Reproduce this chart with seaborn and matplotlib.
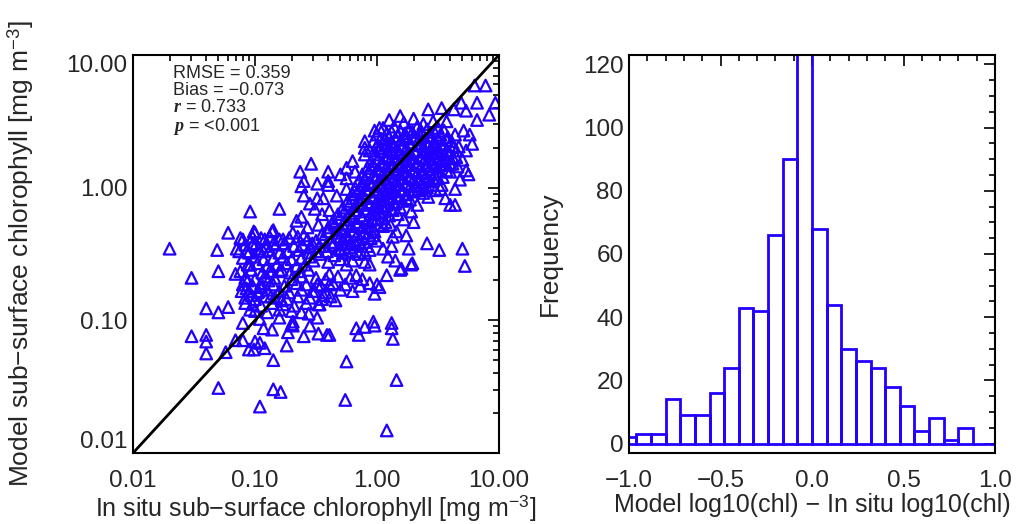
#!/usr/bin/env python3

import numpy as np
import pandas as pd
import matplotlib as mpl
from matplotlib import pyplot as plt
import seaborn as sns

sns.set_theme(style='white')
plt.rcParams['font.family'] = ['Liberation Sans', 'DejaVu Sans']
plt.rcParams['mathtext.fontset'] = 'custom'
plt.rcParams['mathtext.rm'] = 'Liberation Sans'
plt.rcParams['mathtext.it'] = 'Liberation Serif:italic:bold'
plt.rcParams['axes.edgecolor'] = 'black'
plt.rcParams['axes.linewidth'] = 1.5

BLUE = '#2200ff'

# match-ups, as (log10 in situ, log10 model)
low_left = [(-1.70,-0.46),(-1.52,-0.68),(-1.40,-0.91),(-1.30,-0.94),(-1.22,-0.90),(-1.52,-1.12),(-1.40,-1.11),
            (-1.40,-1.16),(-1.40,-1.25),(-1.24,-1.24),(-1.30,-1.51),(-1.31,-0.47),(-1.30,-0.63),(-1.22,-0.34),
            (-1.00,-0.34),(-1.04,-0.18),(-0.80,-0.16),(-0.86,-0.33),(-1.15,-0.46),(-1.10,-0.39),(-1.16,-0.65),
            (-1.10,-1.02),(-1.10,-1.15),(-1.16,-1.15),(-1.05,-1.22),(-1.00,-1.16),(-1.07,-0.48),(-1.04,-0.58),
            (-1.07,-0.76),(-1.11,-0.78),(-1.03,-0.81),(-1.08,-0.87),(-1.04,-0.92),(-1.06,-0.70),(-1.02,-0.43),
            (-1.01,-0.33)]
low_mid = [(-0.96,-1.65),(-0.85,-1.52),(-0.79,-1.54),(-0.85,-1.30),(-0.86,-1.07),(-0.74,-1.19),(-0.69,-1.04),
           (-0.60,-1.12),(-0.55,-1.04),(-0.48,-1.10),(-0.41,-1.11),(-0.39,-1.11),(-0.25,-1.31),(-0.26,-1.60),
           (-0.17,-1.06),(-0.10,-1.05),(-0.03,-1.01),(-0.15,-1.11),(-0.93,-1.06),(-0.70,-1.03),(-0.49,-0.98),
           (-0.73,-1.09),(-1.01,-1.22),(-0.92,-1.21),(-0.96,-1.17),(-0.80,-0.98),(-0.96,-0.99),(-0.69,-1.01),
           (-0.56,-0.95),(-0.47,-0.88),(-0.44,-0.81),(-0.34,-0.85),(-0.78,-0.85),(-0.87,-0.82),(-0.95,-0.75),
           (-0.97,-0.78),(-0.89,-0.70),(-0.88,-0.63),(-0.80,-0.63)]
low_right = [(0.12,-1.06),(0.13,-1.14),(0.16,-1.45),(0.08,-1.83),(-0.02,-1.04),(0.12,-1.02),(0.41,-0.42),
             (0.51,-0.47),(0.70,-0.46),(0.72,-0.59),(0.29,-0.57),(0.26,-0.46),(0.19,-0.62),(0.24,-0.36),
             (0.28,-0.58),(0.20,-0.61),(0.08,-0.66),(0.15,-0.55),(0.02,-0.75),(-0.02,-0.80),(0.09,-0.52),
             (0.12,-0.44),(0.05,-0.46),(0.13,-0.37),(0.30,-0.26),(0.16,-0.33),(0.11,-0.28),(0.22,-0.24),
             (0.28,-0.18),(0.33,-0.13),(0.34,-0.02),(0.52,-0.01),(0.64,-0.01),(0.42,-0.07),(0.56,-0.08),
             (0.60,-0.13),(0.64,-0.13),(0.00,-0.73),(-0.17,-0.66)]
upper = [(0.89,0.77),(0.80,0.77),(0.82,0.64),(0.97,0.64),(0.92,0.55),(0.73,0.58),(0.82,0.51),(0.69,0.64),
         (0.63,0.59),(0.57,0.50),(0.64,0.40),(0.71,0.43),(0.76,0.40),(0.78,0.33),(0.73,0.28),(0.19,0.54),
         (0.02,0.45),(0.53,0.60),(0.42,0.59),(0.65,0.28),(0.73,0.13),(0.75,0.10),(0.68,0.06),(0.53,0.02),
         (0.60,0.12),(0.02,0.30),(-0.06,0.28),(-0.10,0.35),(-0.10,0.30),(-0.10,0.25),(-0.02,0.43),(-0.54,0.18),
         (-0.63,0.12),(-0.40,0.12),(-0.25,0.15),(-0.60,0.05),(-0.49,0.03),(-0.40,0.05),(-0.25,0.07),(-0.62,0.01),
         (-0.40,0.02),(-0.25,-0.01),(-0.11,0.02),(-0.30,0.10),(-0.18,0.12),(-0.05,0.15),(-0.20,0.20)]
mid_left = [(-0.62,-0.22),(-0.51,-0.16),(-0.85,-0.32),(-0.69,-0.34),(-0.60,-0.36),(-0.77,-0.39),(-0.92,-0.39),
            (-0.85,-0.42),(-0.97,-0.46),(-0.93,-0.48),(-0.39,-0.73),(-0.49,-0.73),(-0.51,-0.78),(-0.39,-0.65),
            (-0.25,-0.58),(-0.28,-0.49),(-0.22,-0.42),(-0.30,-0.37),(-0.36,-0.26),(-0.28,-0.28),(-0.39,-0.17),
            (-0.49,-0.08),(-0.60,-0.06),(-0.55,-0.12),(-0.44,-0.08),(-0.33,-0.06),(-0.06,-0.58),(-0.06,-0.47),
            (-0.03,-0.36),(-0.66,-0.25),(-0.57,-0.30),(-0.45,-0.20),(-0.48,-0.28)]
core_upper = [(0.10,0.51),(0.22,0.49),(0.30,0.52),(0.38,0.48),(0.46,0.50),
              (0.05,0.45),(0.14,0.46),(0.26,0.44),(0.33,0.46),(0.41,0.44),(0.50,0.45),(0.55,0.43),
              (0.00,0.40),(0.08,0.41),(0.17,0.39),(0.23,0.41),(0.30,0.39),(0.37,0.41),(0.44,0.39),(0.52,0.40),(0.58,0.38),
              (-0.03,0.35),(0.06,0.36),(0.12,0.34),(0.20,0.36),(0.27,0.34),(0.34,0.36),(0.40,0.34),(0.47,0.35),(0.54,0.33),(0.61,0.35),
              (0.03,0.30),(0.10,0.31),(0.16,0.29),(0.24,0.30),(0.31,0.28),(0.38,0.31),(0.45,0.29),(0.50,0.30),(0.57,0.28),(0.67,0.31),
              (-0.02,0.25),(0.07,0.24),(0.14,0.26),(0.21,0.24),(0.28,0.25),(0.35,0.23),(0.42,0.26),(0.48,0.24),(0.55,0.25),(0.62,0.23),
              (-0.05,0.20),(0.04,0.19),(0.11,0.21),(0.18,0.19),(0.25,0.20),(0.32,0.18),(0.39,0.21),(0.46,0.19),(0.53,0.20),(0.60,0.18),(0.70,0.21),
              (-0.08,0.15),(0.01,0.14),(0.08,0.16),(0.15,0.14),(0.22,0.15),(0.29,0.13),(0.36,0.16),(0.43,0.14),(0.50,0.15),(0.57,0.13),(0.66,0.16),
              (-0.12,0.10),(-0.03,0.09),(0.05,0.11),(0.12,0.09),(0.19,0.10),(0.26,0.08),(0.33,0.11),(0.40,0.09),(0.47,0.10),(0.54,0.08),
              (-0.15,0.05),(-0.06,0.04),(0.02,0.06),(0.09,0.04),(0.16,0.05),(0.23,0.03),(0.30,0.06),(0.37,0.04),(0.44,0.05),
              (-0.18,0.00),(-0.09,-0.01),(-0.01,0.01),(0.06,-0.01),(0.13,0.00),(0.20,-0.02),(0.27,0.01),(0.34,-0.01),(0.41,0.00),(0.48,-0.02)]
core_mid = [(-0.20,-0.05),(-0.12,-0.04),(-0.04,-0.06),(0.03,-0.05),(0.10,-0.04),(0.17,-0.06),(0.24,-0.05),(0.38,-0.04),
            (-0.24,-0.10),(-0.15,-0.09),(-0.07,-0.11),(0.00,-0.10),(0.07,-0.09),(0.14,-0.11),(0.21,-0.10),(0.27,-0.09),
            (-0.28,-0.15),(-0.18,-0.14),(-0.10,-0.16),(-0.02,-0.15),(0.05,-0.14),(0.12,-0.16),(0.19,-0.15),
            (-0.32,-0.20),(-0.22,-0.19),(-0.13,-0.21),(-0.05,-0.20),(0.03,-0.19),(0.10,-0.21),(0.17,-0.20),
            (-0.36,-0.25),(-0.26,-0.24),(-0.17,-0.26),(-0.08,-0.25),(0.00,-0.24),(0.07,-0.26),
            (-0.40,-0.30),(-0.30,-0.31),(-0.21,-0.29),(-0.12,-0.30),(-0.03,-0.31),(0.05,-0.29),
            (-0.45,-0.35),(-0.34,-0.34),(-0.25,-0.36),(-0.16,-0.35),(-0.07,-0.34),
            (-0.50,-0.40),(-0.38,-0.41),(-0.28,-0.39),(-0.19,-0.40),(-0.10,-0.41),(0.00,-0.40),
            (-0.55,-0.45),(-0.42,-0.44),(-0.31,-0.46),(-0.22,-0.45),(-0.13,-0.44),
            (-0.47,-0.50),(-0.35,-0.51),(-0.25,-0.49),(-0.15,-0.50),
            (-0.52,-0.55),(-0.40,-0.56),(-0.30,-0.54),(-0.20,-0.55),(-0.10,-0.56)]
core_fill = [(0.12,0.42),(0.19,0.43),(0.29,0.42),(0.36,0.43),(0.47,0.42),
             (0.03,0.37),(0.10,0.38),(0.15,0.37),(0.24,0.38),(0.31,0.37),(0.43,0.38),(0.50,0.37),(0.57,0.36),
             (0.00,0.32),(0.07,0.33),(0.13,0.32),(0.20,0.31),(0.28,0.32),(0.35,0.33),(0.42,0.32),(0.48,0.31),(0.53,0.32),(0.62,0.31),
             (0.04,0.27),(0.11,0.28),(0.18,0.27),(0.25,0.26),(0.32,0.27),(0.39,0.28),(0.45,0.27),(0.52,0.26),(0.59,0.27),
             (0.01,0.22),(0.08,0.23),(0.15,0.22),(0.22,0.21),(0.29,0.22),(0.36,0.23),(0.43,0.22),(0.50,0.21),(0.57,0.22),(0.65,0.23),
             (-0.03,0.17),(0.05,0.18),(0.12,0.17),(0.19,0.16),(0.26,0.17),(0.33,0.18),(0.40,0.17),(0.47,0.16),(0.54,0.17),(0.62,0.18),
             (-0.07,0.12),(0.02,0.13),(0.09,0.12),(0.16,0.11),(0.23,0.12),(0.30,0.13),(0.37,0.12),(0.44,0.11),(0.51,0.12),
             (-0.10,0.07),(-0.01,0.08),(0.06,0.07),(0.13,0.06),(0.20,0.07),(0.27,0.08),(0.34,0.07),(0.41,0.06),(0.49,0.07),
             (-0.13,0.02),(-0.04,0.03),(0.03,0.02),(0.10,0.01),(0.17,0.02),(0.24,0.03),(0.31,0.02),(0.38,0.01),(0.45,0.02),
             (-0.16,-0.03),(-0.07,-0.02),(0.00,-0.03),(0.07,-0.04),(0.14,-0.03),(0.21,-0.02),(0.30,-0.03),
             (-0.20,-0.08),(-0.11,-0.07),(-0.03,-0.08),(0.04,-0.09),(0.11,-0.08),(0.18,-0.07),(0.24,-0.08),
             (-0.23,-0.13),(-0.14,-0.12),(-0.06,-0.13),(0.01,-0.14),(0.08,-0.13),(0.15,-0.12),
             (-0.27,-0.18),(-0.18,-0.17),(-0.09,-0.18),(-0.01,-0.19),(0.06,-0.18),(0.13,-0.17),
             (-0.31,-0.23),(-0.21,-0.22),(-0.12,-0.23),(-0.04,-0.24),(0.04,-0.23),
             (-0.35,-0.28),(-0.25,-0.27),(-0.16,-0.28),(-0.07,-0.29),(0.01,-0.28),
             (-0.40,-0.33),(-0.29,-0.32),(-0.20,-0.33),(-0.11,-0.34),(-0.02,-0.33),
             (-0.44,-0.38),(-0.33,-0.37),(-0.23,-0.38),(-0.14,-0.39),(-0.05,-0.38),
             (-0.36,-0.43),(-0.26,-0.42),(-0.17,-0.43),(-0.08,-0.44),
             (-0.41,-0.48),(-0.30,-0.47),(-0.20,-0.48),(-0.10,-0.49)]
core_band = [(-1.12,-0.38),(-1.02,-0.37),(-0.95,-0.38),(-0.88,-0.37),(-0.80,-0.39),(-0.72,-0.38),(-0.65,-0.37),(-0.57,-0.39),
             (-1.08,-0.43),(-0.99,-0.42),(-0.91,-0.44),(-0.83,-0.43),(-0.76,-0.42),(-0.68,-0.44),(-0.61,-0.43),(-0.53,-0.42),(-0.47,-0.44),
             (-1.13,-0.48),(-1.05,-0.49),(-0.96,-0.48),(-0.88,-0.47),(-0.80,-0.49),(-0.73,-0.48),(-0.64,-0.47),(-0.56,-0.49),(-0.50,-0.48),
             (-1.10,-0.53),(-1.01,-0.52),(-0.93,-0.54),(-0.85,-0.53),(-0.77,-0.52),(-0.70,-0.54),(-0.62,-0.53),(-0.55,-0.52),
             (-1.06,-0.58),(-0.98,-0.57),(-0.90,-0.59),(-0.82,-0.58),(-0.74,-0.57),(-0.66,-0.59),(-0.59,-0.58),
             (-1.12,-0.63),(-1.03,-0.62),(-0.94,-0.64),(-0.86,-0.63),(-0.78,-0.62),(-0.71,-0.64),(-0.63,-0.63),(-0.56,-0.62)]
core_low = [(-1.08,-0.68),(-1.00,-0.69),(-0.92,-0.67),(-0.84,-0.68),(-0.70,-0.69),(-0.62,-0.67),(-0.50,-0.68),(-0.42,-0.69),
            (-0.32,-0.67),(-0.22,-0.68),(-0.12,-0.69),
            (-1.10,-0.73),(-1.02,-0.74),(-0.95,-0.72),(-0.85,-0.73),(-0.76,-0.74),(-0.66,-0.72),(-0.58,-0.73),(-0.46,-0.74),
            (-0.36,-0.72),(-0.26,-0.73),(-0.14,-0.74),(-0.06,-0.72),
            (-1.05,-0.78),(-0.98,-0.79),(-0.90,-0.77),(-0.80,-0.78),(-0.72,-0.79),(-0.62,-0.77),(-0.53,-0.78),(-0.42,-0.79),
            (-0.30,-0.77),(-0.20,-0.78),
            (-1.08,-0.83),(-1.00,-0.84),(-0.92,-0.82),(-0.84,-0.83),(-0.74,-0.84),(-0.65,-0.82),(-0.55,-0.83),(-0.45,-0.84),(-0.38,-0.82),
            (-1.02,-0.88),(-0.95,-0.89),(-0.86,-0.87),(-0.77,-0.88),(-0.68,-0.89),(-0.58,-0.87),(-0.48,-0.88),
            (-1.00,-0.93),(-0.90,-0.94),(-0.80,-0.92),(-0.70,-0.93),(-0.62,-0.94)]

stats = ['RMSE = 0.359', 'Bias = \u22120.073', '$r$ = 0.733', '$p$ = <0.001']

# histogram of model minus in situ log10 chl
bin_edges = [-1.04, -0.96, -0.88, -0.80, -0.72, -0.64, -0.56, -0.48, -0.40, -0.32, -0.24, -0.16, -0.08, 0.0,
             0.08, 0.16, 0.24, 0.32, 0.40, 0.48, 0.56, 0.64, 0.72, 0.80, 0.88, 0.96, 1.04]
bin_counts = [2, 3, 3, 14, 9, 9, 16, 24, 43, 42, 66, 90, 125, 68, 44, 30, 26, 24, 18, 12, 4, 8, 1, 5, 0, 0]

pts = np.array(low_left + low_mid + low_right + upper + mid_left + core_upper + core_mid + core_fill
               + core_band + core_low)
scat = pd.DataFrame({'insitu': 10 ** pts[:, 0], 'model': 10 ** pts[:, 1]})
hist = pd.DataFrame({'diff': [(a + b) / 2 for a, b in zip(bin_edges[:-1], bin_edges[1:])], 'count': bin_counts})

fig = plt.figure(figsize=(10.33, 5.24), dpi=100)
ax1 = fig.add_axes([133/1033, 71/524, 366/1033, 398/524])
ax2 = fig.add_axes([629/1033, 71/524, 366/1033, 398/524])

g = sns.scatterplot(data=scat, x='insitu', y='model', marker='^', s=70, facecolors='none',
                    edgecolor=BLUE, linewidth=1.6, ax=ax1, legend=False)
g.plot([0.01, 10], [0.01, 10], color='black', lw=2, zorder=3)
g.set(xscale='log', yscale='log', xlim=(0.01, 10), ylim=(0.01, 10))
ticks = [0.01, 0.1, 1, 10]
g.set_xticks(ticks)
g.set_yticks(ticks)
g.xaxis.set_major_formatter(mpl.ticker.FormatStrFormatter('%.2f'))
g.yaxis.set_major_formatter(mpl.ticker.FormatStrFormatter('%.2f'))
for axis in [g.xaxis, g.yaxis]:
    axis.set_minor_locator(mpl.ticker.LogLocator(subs=np.arange(2, 10)))
    axis.set_minor_formatter(mpl.ticker.NullFormatter())
g.set_xlabel('In situ sub\u2212surface chlorophyll [mg m$^{-3}$]', fontsize=18, labelpad=0.5)
g.set_ylabel('Model sub\u2212surface chlorophyll [mg m$^{-3}$]', fontsize=19)
g.yaxis.set_label_coords(-0.266, 0.5)
labs = g.get_yticklabels()
labs[0].set_va('bottom')
labs[-1].set_va('top')
for i, line in enumerate(stats):
    g.text(0.108, 0.975 - i * 0.043, line, transform=g.transAxes, fontsize=13, va='top', ha='left')

h = sns.histplot(data=hist, x='diff', weights='count', bins=bin_edges, element='bars', fill=False,
                 color=BLUE, linewidth=2, ax=ax2)
h.set(xlim=(-1, 1), ylim=(-3, 123))
h.xaxis.set_major_locator(mpl.ticker.MultipleLocator(0.5))
h.xaxis.set_minor_locator(mpl.ticker.MultipleLocator(0.1))
h.xaxis.set_major_formatter(mpl.ticker.FuncFormatter(lambda v, p: ('%.1f' % v).replace('-', '\u2212')))
h.yaxis.set_major_locator(mpl.ticker.MultipleLocator(20))
h.yaxis.set_minor_locator(mpl.ticker.MultipleLocator(5))
h.set_xlabel('Model log10(chl) \u2212 In situ log10(chl)', fontsize=18, labelpad=0.5)
h.set_ylabel('Frequency', fontsize=19)
h.yaxis.set_label_coords(-0.183, 0.5)

for ax in [ax1, ax2]:
    ax.tick_params(which='both', direction='in', top=True, right=True, color='black', width=1.2)
    ax.tick_params(which='major', length=8, labelsize=17.5)
    ax.tick_params(which='minor', length=4)
    ax.tick_params(axis='x', which='major', pad=12.5)
    ax.tick_params(axis='y', which='major', pad=4)
    for sp in ax.spines.values():
        sp.set_color('black')
        sp.set_linewidth(1.5)

fig.savefig('out.png', dpi=100)
